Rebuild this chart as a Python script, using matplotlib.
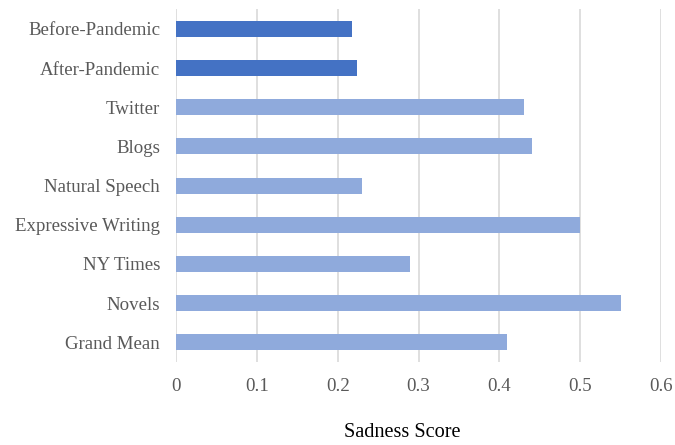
import numpy as np
import matplotlib.pyplot as plt

categories = ["Before-Pandemic", "After-Pandemic", "Twitter", "Blogs", "Natural Speech",
              "Expressive Writing", "NY Times", "Novels", "Grand Mean"]
scores = [0.218, 0.224, 0.431, 0.441, 0.230, 0.500, 0.290, 0.551, 0.410]
dark = "#4472C4"
light = "#8FAADC"
colors = [dark, dark] + [light] * 7

plt.rcParams['font.family'] = ['Liberation Serif', 'DejaVu Serif']

fig = plt.figure(figsize=(6.75, 4.45), dpi=100)
ax = fig.add_axes([0.2607, 0.187, 0.7186, 0.792])

y = np.arange(len(categories))
ax.barh(y, scores, height=0.41, color=colors, zorder=3)
ax.set_ylim(len(categories) - 0.5, -0.5)
ax.set_xlim(0, 0.6)
ax.set_xticks([0, 0.1, 0.2, 0.3, 0.4, 0.5, 0.6])
ax.set_xticklabels(["0", "0.1", "0.2", "0.3", "0.4", "0.5", "0.6"])
ax.set_yticks(y)
ax.set_yticklabels(categories)
ax.grid(axis="x", color="#D9D9D9", linewidth=1.2, zorder=0)
for s in ax.spines.values():
    s.set_visible(False)
ax.tick_params(length=0, labelsize=13.6, labelcolor="#595959")
ax.tick_params(axis="y", pad=11.5)
ax.tick_params(axis="x", pad=12)
ax.set_xlabel("Sadness Score", fontsize=14.6, color="#000000")
ax.xaxis.set_label_coords(0.467, -0.2)
ax.xaxis.label.set_va("center")

fig.savefig("out.png", dpi=100)
